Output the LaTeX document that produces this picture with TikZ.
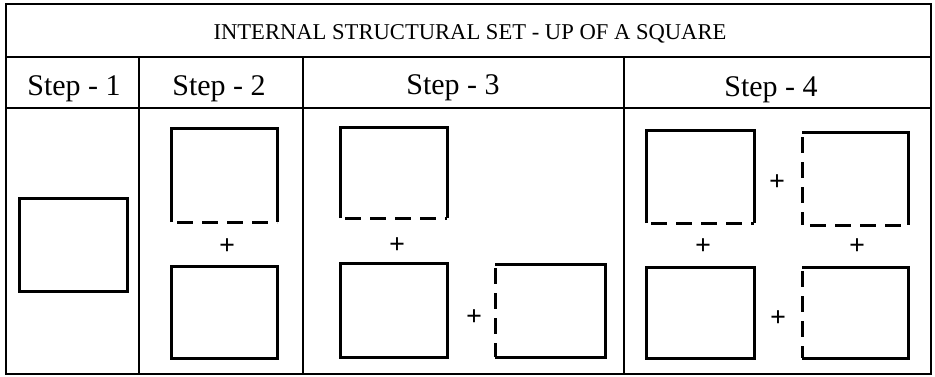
\documentclass[tikz,border=0pt]{standalone}
\usepackage{fontspec}
\setmainfont{Liberation Serif}
\begin{document}
\begin{tikzpicture}[x=1pt,y=-1pt,
  frame/.style={line width=2.2pt},
  sq/.style={line width=3pt},
  dsh/.style={line width=3pt, dash pattern=on 16pt off 9pt},
  plussign/.style={font=\fontsize{28}{28}\selectfont\bfseries, inner sep=0pt},
  steplabel/.style={font=\fontsize{30}{30}\selectfont, inner sep=0pt, anchor=base},
  titlelabel/.style={font=\fontsize{22.6}{22.6}\selectfont, inner sep=0pt, anchor=base},
]
\useasboundingbox (0,0) rectangle (935,376);
\fill[white] (0,0) rectangle (935,376);
% table frame
\draw[frame] (6,4) rectangle (931,374);
\draw[frame] (6,57) -- (931,57);
\draw[frame] (6,108) -- (931,108);
\draw[frame] (139,57) -- (139,374);
\draw[frame] (303,57) -- (303,374);
\draw[frame] (624,57) -- (624,374);
% texts
\node[titlelabel] (title) at (470,39) {INTERNAL STRUCTURAL SET - UP OF A SQUARE};
\node[steplabel] (s1) at (74,95) {Step - 1};
\node[steplabel] (s2) at (219,95) {Step - 2};
\node[steplabel] (s3) at (453,94) {Step - 3};
\node[steplabel] (s4) at (771,96) {Step - 4};
% step 1
\draw[sq] (19,198) rectangle (127,291);
% step 2
\draw[sq] (171,222) -- (171,128) -- (277,128) -- (277,222);
\draw[dsh] (177,222) -- (277,222);
\node[plussign] (p21) at (227,247) {+};
\draw[sq] (171,266) rectangle (277,358);
% step 3
\draw[sq] (340,218) -- (340,127) -- (447,127) -- (447,218);
\draw[dsh] (345,218) -- (447,218);
\node[plussign] (p31) at (397,246) {+};
\draw[sq] (340,263) rectangle (447,357);
\node[plussign] (p32) at (474,318) {+};
\draw[sq] (495,264) -- (605,264) -- (605,357) -- (495,357);
\draw[dsh] (495,268) -- (495,357);
% step 4
\draw[sq] (646,223) -- (646,130) -- (754,130) -- (754,223);
\draw[dsh] (651,223) -- (754,223);
\node[plussign] (p41) at (777,183) {+};
\draw[sq] (802,132) -- (908,132) -- (908,225);
\draw[dsh] (810,225) -- (908,225);
\draw[dsh] (802,137) -- (802,225);
\node[plussign] (p42) at (703,247) {+};
\node[plussign] (p43) at (857,247) {+};
\draw[sq] (646,267) rectangle (754,358);
\node[plussign] (p44) at (778,319) {+};
\draw[sq] (802,267) -- (908,267) -- (908,358) -- (802,358);
\draw[dsh] (802,271) -- (802,358);
\end{tikzpicture}
\end{document}
